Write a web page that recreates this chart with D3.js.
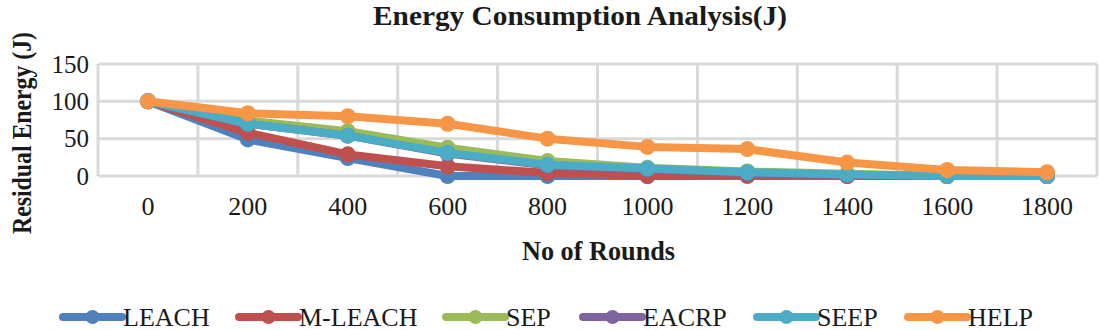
<!DOCTYPE html>
<html>
<head>
<meta charset="utf-8">
<script src="https://cdn.jsdelivr.net/npm/d3@7"></script>
<style>
  body { margin: 0; background: #fff; }
  text { font-family: "Liberation Serif", "Times New Roman", serif; fill: #1a1a1a; }
</style>
</head>
<body>
<svg id="chart"></svg>
<script>
var rounds = ['0', '200', '400', '600', '800', '1000', '1200', '1400', '1600', '1800'];
var seriesNames = ['LEACH', 'M-LEACH', 'SEP', 'EACRP', 'SEEP', 'HELP'];
var seriesColors = ['#4f81bd', '#c0504d', '#9bbb59', '#8064a2', '#4bacc6', '#f79646'];
var leach   = [100, 49, 24, 0, 0, 0, 0, 0, 0, 0];
var mleach  = [100, 58, 29, 13, 4, 0, 1, 0, 0, 0];
var sep     = [100, 74, 60, 38, 20, 11, 6, 3, 0, 0];
var eacrp   = [100, 70, 54, 30, 14, 9, 4, 1, 0, 0];
var seep    = [100, 70, 54, 31, 15, 10, 5, 2, 0, 0];
var help    = [100, 84, 80, 70, 50, 39, 36, 18, 8, 5];
var yTicks = [0, 50, 100, 150];

var allValues = [leach, mleach, sep, eacrp, seep, help];

var width = 1100, height = 330;
var margin = {top: 64, right: 3, bottom: 154, left: 98};

var svg = d3.select('#chart')
    .attr('width', width)
    .attr('height', height);

var xScale = d3.scaleBand()
    .domain(rounds)
    .range([margin.left, width - margin.right])
    .padding(0);

var yScale = d3.scaleLinear()
    .domain([0, 150])
    .range([height - margin.bottom, margin.top]);

// grid lines
var grid = svg.append('g');
grid.selectAll('line.h')
    .data(yTicks)
    .enter()
    .append('line')
    .attr('x1', margin.left)
    .attr('x2', width - margin.right)
    .attr('y1', function (d) { return yScale(d); })
    .attr('y2', function (d) { return yScale(d); })
    .attr('stroke', '#d9d9d9')
    .attr('stroke-width', 3);

var edges = rounds.map(function (r) { return xScale(r); }).concat([xScale.range()[1]]);
grid.selectAll('line.v')
    .data(edges)
    .enter()
    .append('line')
    .attr('x1', function (d) { return d; })
    .attr('x2', function (d) { return d; })
    .attr('y1', yScale(150))
    .attr('y2', yScale(0))
    .attr('stroke', '#d9d9d9')
    .attr('stroke-width', 3);

// axes (labels only)
var xAxis = d3.axisBottom(xScale).tickSize(0).tickPadding(0);
var gx = svg.append('g')
    .attr('transform', 'translate(0,' + (yScale(0) + 26) + ')')
    .call(xAxis);
gx.select('.domain').remove();
gx.selectAll('text')
    .attr('font-size', 26)
    .attr('dy', '0.5em')
    .style('font-family', '"Liberation Serif", serif');

var yAxis = d3.axisLeft(yScale).tickValues(yTicks).tickSize(0).tickPadding(0);
var gy = svg.append('g')
    .attr('transform', 'translate(89,0)')
    .call(yAxis);
gy.select('.domain').remove();
gy.selectAll('text')
    .attr('font-size', 25)
    .style('font-family', '"Liberation Serif", serif');

// lines and markers
var line = d3.line()
    .x(function (d, i) { return xScale(rounds[i]) + xScale.bandwidth() / 2; })
    .y(function (d) { return yScale(d); });

allValues.forEach(function (vals, k) {
    var g = svg.append('g');
    g.append('path')
        .datum(vals)
        .attr('d', line)
        .attr('fill', 'none')
        .attr('stroke', seriesColors[k])
        .attr('stroke-width', 8)
        .attr('stroke-linejoin', 'round');
    g.selectAll('circle')
        .data(vals)
        .enter()
        .append('circle')
        .attr('cx', function (d, i) { return xScale(rounds[i]) + xScale.bandwidth() / 2; })
        .attr('cy', function (d) { return yScale(d); })
        .attr('r', 8)
        .attr('fill', seriesColors[k]);
});

// titles
svg.append('text')
    .attr('x', 580)
    .attr('y', 25)
    .attr('text-anchor', 'middle')
    .attr('font-size', 27)
    .attr('font-weight', 'bold')
    .attr('textLength', 414)
    .attr('lengthAdjust', 'spacingAndGlyphs')
    .text('Energy Consumption Analysis(J)');

svg.append('text')
    .attr('transform', 'translate(31,133) rotate(-90)')
    .attr('text-anchor', 'middle')
    .attr('font-size', 28)
    .attr('font-weight', 'bold')
    .attr('textLength', 202)
    .attr('lengthAdjust', 'spacingAndGlyphs')
    .text('Residual Energy (J)');

svg.append('text')
    .attr('x', 598.5)
    .attr('y', 260)
    .attr('text-anchor', 'middle')
    .attr('font-size', 27)
    .attr('font-weight', 'bold')
    .attr('textLength', 153)
    .attr('lengthAdjust', 'spacingAndGlyphs')
    .text('No of Rounds');

// legend
var legendX = [63, 239, 446, 583, 757, 908];
var legend = svg.append('g');
seriesNames.forEach(function (name, k) {
    var x0 = legendX[k];
    var item = legend.append('g').attr('transform', 'translate(' + x0 + ',317)');
    item.append('line')
        .attr('x1', 0).attr('x2', 59)
        .attr('stroke', seriesColors[k])
        .attr('stroke-width', 8)
        .attr('stroke-linecap', 'round');
    item.append('circle')
        .attr('cx', 29.5)
        .attr('r', 7)
        .attr('fill', seriesColors[k]);
    item.append('text')
        .attr('x', 60)
        .attr('dy', '0.35em')
        .attr('font-size', 26)
        .text(name);
});
</script>
</body>
</html>
